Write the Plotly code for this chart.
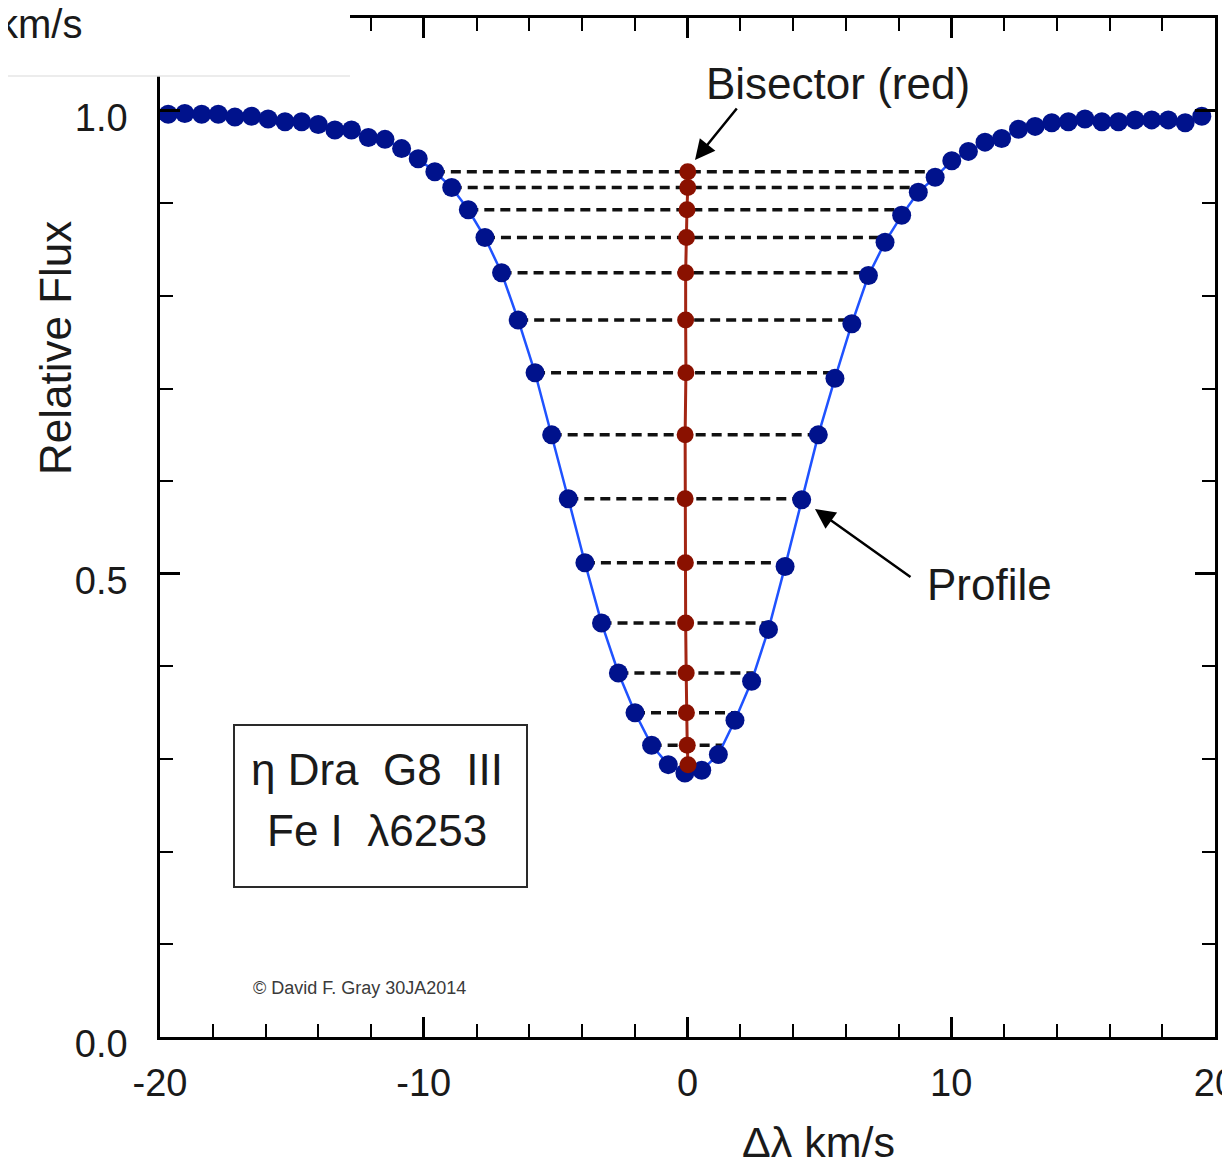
import numpy as np
import plotly.graph_objects as go

# ---------------- data ----------------
velocity = [-19.69, -19.06, -18.42, -17.79, -17.16, -16.53, -15.90, -15.26, -14.63, -14.00,
            -13.37, -12.74, -12.10, -11.47, -10.84, -10.21, -9.58, -8.94, -8.31, -7.68,
            -7.05, -6.42, -5.78, -5.15, -4.52, -3.89, -3.26, -2.62, -1.99, -1.36,
            -0.73, -0.10, 0.54, 1.17, 1.80, 2.43, 3.07, 3.70, 4.33, 4.96,
            5.59, 6.23, 6.86, 7.49, 8.12, 8.75, 9.39, 10.02, 10.65, 11.28,
            11.91, 12.55, 13.18, 13.81, 14.44, 15.07, 15.71, 16.34, 16.97, 17.60,
            18.23, 18.87, 19.50]
profile_flux = [0.996, 0.997, 0.996, 0.996, 0.993, 0.994, 0.991, 0.988, 0.988, 0.985,
                0.979, 0.979, 0.971, 0.969, 0.959, 0.948, 0.934, 0.917, 0.893, 0.863,
                0.825, 0.774, 0.717, 0.650, 0.581, 0.512, 0.447, 0.393, 0.350, 0.315,
                0.294, 0.285, 0.288, 0.305, 0.342, 0.384, 0.440, 0.508, 0.580, 0.650,
                0.711, 0.770, 0.822, 0.858, 0.887, 0.912, 0.928, 0.946, 0.956, 0.966,
                0.970, 0.980, 0.983, 0.987, 0.988, 0.991, 0.988, 0.988, 0.990, 0.990,
                0.990, 0.987, 0.994]
bisector_flux = [0.934, 0.917, 0.893, 0.863, 0.825, 0.774, 0.717, 0.650, 0.581, 0.512,
                 0.447, 0.393, 0.350, 0.315, 0.294]
bisector_v = [0.01, 0.01, -0.02, -0.04, -0.07, -0.07, -0.06, -0.09, -0.09, -0.08,
              -0.07, -0.05, -0.04, -0.01, 0.02]
x_tick_vals = [-20, -10, 0, 10, 20]
x_tick_text = ["-20", "-10", "0", "10", "20"]
y_tick_vals = [0.0, 0.5, 1.0]
y_tick_text = ["0.0", "0.5", "1.0"]

# ---------------- derived: horizontal chords across the profile ----------------
v = np.array(velocity)
f = np.array(profile_flux)
imin = int(np.argmin(f))
left_v, left_f = v[:imin + 1], f[:imin + 1]
chord_x, chord_y = [], []
for lev, bv in list(zip(bisector_flux, bisector_v))[:-1]:
    lx = float(np.interp(lev, left_f[::-1], left_v[::-1]))
    rx = 2 * bv - lx
    chord_x += [lx, rx, None]
    chord_y += [lev, lev, None]

# ---------------- layout geometry (page pixels; page body has an 8px margin) ----------------
OFF = 8
W, H = 1230 - OFF, 1166 - OFF
PLOT_L, PLOT_R, PLOT_T, PLOT_B = 160, 1215, 18, 1037   # plot area in page pixels
L = PLOT_L - OFF
R = W - (PLOT_R - OFF)
T = PLOT_T - OFF
B = H - (PLOT_B - OFF)
PW, PH = PLOT_R - PLOT_L, PLOT_B - PLOT_T


def px(xp):
    return (xp - PLOT_L) / PW


def py(yp):
    return (PLOT_B - yp) / PH


FONT = "Liberation Sans, Arial, Helvetica, sans-serif"
INK = "#1a1a1a"

fig = go.Figure()
fig.add_trace(go.Scatter(x=chord_x, y=chord_y, mode="lines",
                         line=dict(color="#111111", width=3.5, dash="10px,6px"),
                         hoverinfo="skip"))
fig.add_trace(go.Scatter(x=velocity, y=profile_flux, mode="lines+markers",
                         line=dict(color="#1f52ff", width=2.5),
                         marker=dict(size=19, color="#00128c", line=dict(width=0))))
fig.add_trace(go.Scatter(x=bisector_v, y=bisector_flux, mode="lines+markers",
                         line=dict(color="#a32614", width=3),
                         marker=dict(size=17, color="#8a1100", line=dict(width=0))))

axis_common = dict(showline=True, linecolor="black", linewidth=2.5, mirror="ticks",
                   ticks="inside", tickcolor="black", tickwidth=2.5, ticklen=20,
                   showgrid=False, zeroline=False, ticklabeloverflow="allow",
                   tickfont=dict(family=FONT, size=38, color=INK))

fig.update_xaxes(range=[-20, 20], tickmode="array", tickvals=x_tick_vals, ticktext=x_tick_text,
                 minor=dict(dtick=2, ticks="inside", ticklen=13, tickwidth=2, tickcolor="black",
                            showgrid=False),
                 ticklabelstandoff=11, **axis_common)
fig.update_yaxes(range=[0, 1.1], tickmode="array", tickvals=y_tick_vals, ticktext=y_tick_text,
                 minor=dict(dtick=0.1, ticks="inside", ticklen=13, tickwidth=2, tickcolor="black",
                            showgrid=False),
                 ticklabelstandoff=22, ticklabelshift=7, **axis_common)


def txt(xp, yp, text, size, xanchor="center", angle=0, color=INK):
    return dict(xref="paper", yref="paper", x=px(xp), y=py(yp), text=text, showarrow=False,
                xanchor=xanchor, yanchor="middle", textangle=angle,
                font=dict(family=FONT, size=size, color=color))


annotations = [
    txt(55, 348, "Relative Flux", 44, angle=-90),
    txt(818, 1142, "Δλ km/s", 43),
    txt(84, 24, "km/s", 40, xanchor="right"),
    txt(838, 83, "Bisector (red)", 44),
    txt(989, 584, "Profile", 44),
    txt(377, 769, "η Dra\u00a0\u00a0G8\u00a0\u00a0III", 44),
    txt(377, 830, "Fe I\u00a0 λ6253", 44),
    txt(251, 988, "© David F. Gray 30JA2014", 18, xanchor="left", color="#3a3a3a"),
    dict(xref="paper", yref="paper", x=px(695), y=py(160), ax=43, ay=-53, text="",
         showarrow=True, arrowhead=2, arrowsize=1.6, arrowwidth=2.5, arrowcolor="black"),
    dict(xref="paper", yref="paper", x=px(815), y=py(509), ax=97, ay=69, text="",
         showarrow=True, arrowhead=2, arrowsize=1.6, arrowwidth=2.5, arrowcolor="black"),
]

shapes = [
    # label box
    dict(type="rect", xref="paper", yref="paper", x0=px(234), x1=px(527), y0=py(887), y1=py(725),
         line=dict(color="#2a2a2a", width=2), fillcolor="rgba(0,0,0,0)", layer="above"),
    # white patch at top-left (cropped region of the original figure)
    dict(type="rect", xref="paper", yref="paper", x0=px(-10), x1=px(350), y0=py(76), y1=py(-10),
         line=dict(width=0), fillcolor="white", layer="above"),
    dict(type="line", xref="paper", yref="paper", x0=px(0), x1=px(350), y0=py(76), y1=py(76),
         line=dict(color="#e6e6e6", width=1.5), layer="above"),
]

fig.update_layout(width=W, height=H, margin=dict(l=L, r=R, t=T, b=B, autoexpand=False),
                  plot_bgcolor="white", paper_bgcolor="white", showlegend=False,
                  hovermode=False, annotations=annotations, shapes=shapes,
                  font=dict(family=FONT))

fig.write_html("out.html")
